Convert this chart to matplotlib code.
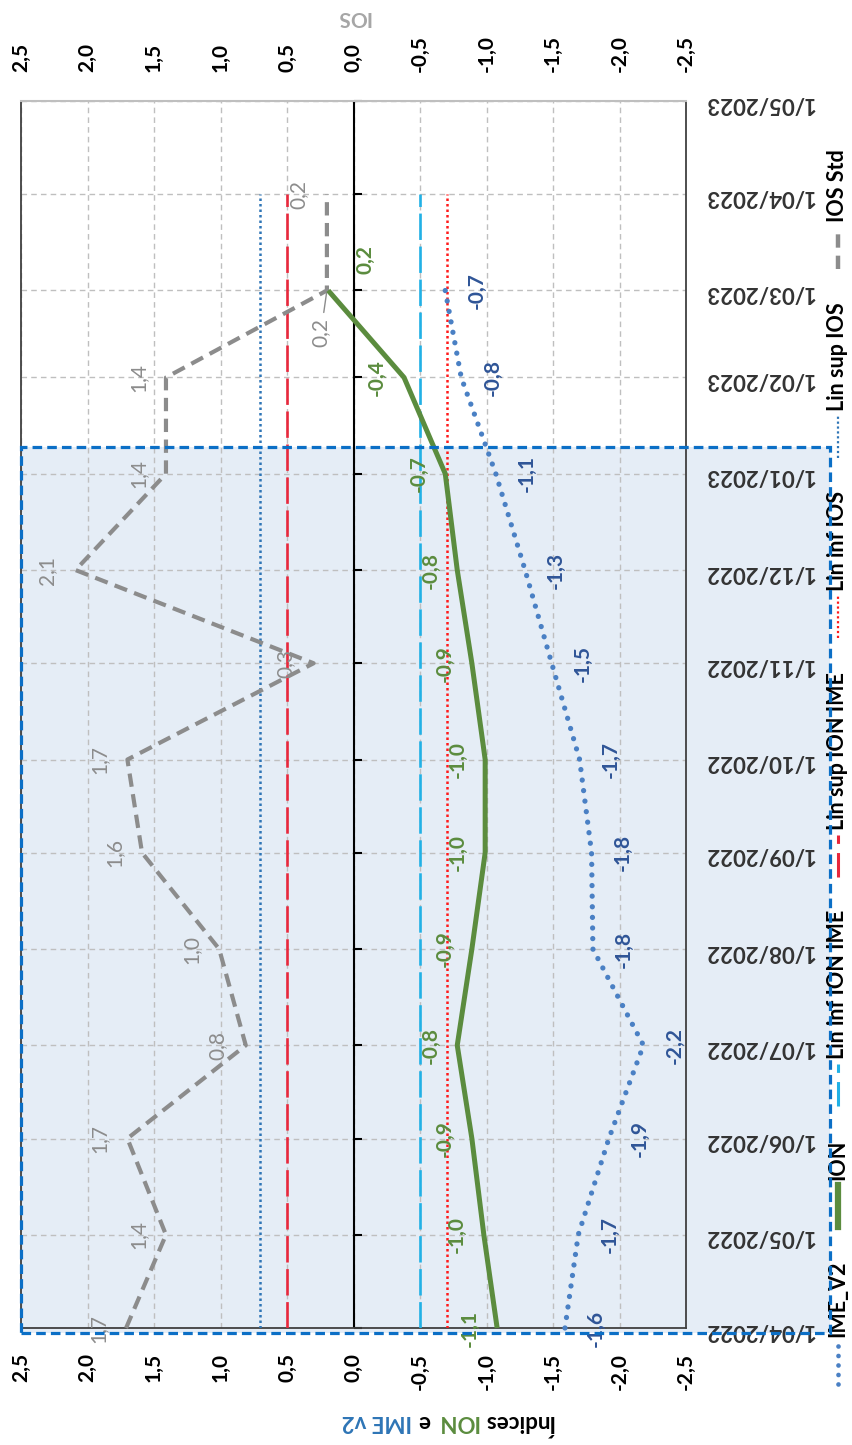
import pandas as pd
import matplotlib.pyplot as plt
import matplotlib.dates as mdates
from matplotlib.ticker import FuncFormatter
from matplotlib.lines import Line2D
from matplotlib.patches import Rectangle

plt.rcParams['font.family'] = ['Lato', 'DejaVu Sans']

# ---- data ----
dates = pd.date_range('2022-04-01', '2023-04-01', freq='MS')   # 13 months
ios_std = [1.71, 1.41, 1.70, 0.81, 1.01, 1.59, 1.70, 0.30, 2.09, 1.41, 1.41, 0.20, 0.20]
ion = [-1.08, -0.98, -0.89, -0.78, -0.89, -0.99, -0.99, -0.89, -0.78, -0.69, -0.38, 0.19]
ime_v2 = [-1.59, -1.69, -1.92, -2.18, -1.80, -1.79, -1.70, -1.49, -1.29, -1.07, -0.81, -0.69]
lin_sup_ios = 0.7
lin_inf_ios = -0.7
lin_sup_ion_ime = 0.5
lin_inf_ion_ime = -0.5
value_ticks = [2.5, 2.0, 1.5, 1.0, 0.5, 0.0, -0.5, -1.0, -1.5, -2.0, -2.5]

# ---- colours ----
GRAY = '#8c8c8c'
GREEN = '#5b8c3e'
IME_BLUE = '#4a80c4'
IME_LABEL = '#2f5597'
RED = '#e8283c'
RED_DOT = '#ff1a1a'
LIGHT_BLUE = '#21b1e6'
BLUE_DOT = '#2e75b6'
GRID = '#bfbfbf'

W, H = 852, 1445


def fx(x):
    return x / W


def fy(y):
    return 1 - y / H


def fmt(v):
    v = round(v, 1)
    if abs(v) < 1e-9:
        v = 0.0
    return f"{v:.1f}".replace('.', ',')


fig = plt.figure(figsize=(W / 100, H / 100), dpi=100)
ax = fig.add_axes([fx(21), fy(1328), fx(686) - fx(21), fy(101) - fy(1328)])
ax.patch.set_alpha(0)

# shaded band behind plot + dashed border on top
fig.add_artist(Rectangle((fx(21), fy(1333)), fx(830) - fx(21), fy(447) - fy(1333),
                         transform=fig.transFigure, facecolor='#e5edf6',
                         edgecolor='none', zorder=-5))
fig.add_artist(Rectangle((fx(21), fy(1333)), fx(830) - fx(21), fy(447) - fy(1333),
                         transform=fig.transFigure, facecolor='none',
                         edgecolor='#0b6fc6', lw=2.3, ls=(0, (3, 1.6)), zorder=20))

ax.set_xlim(2.5, -2.5)
ax.set_ylim(mdates.date2num(pd.Timestamp('2022-04-01')),
            mdates.date2num(pd.Timestamp('2023-05-01')))

# grid
ax.set_axisbelow(True)
ax.set_xticks(value_ticks)
ax.yaxis.set_major_locator(mdates.MonthLocator())
ax.grid(True, color=GRID, lw=1, ls=(0, (4, 3)))

# zero line with month ticks
ax.axvline(0, color='black', lw=1.5, zorder=2)
month_ticks = pd.date_range('2022-04-01', '2023-05-01', freq='MS')
ax.plot([0] * len(month_ticks), month_ticks, ls='none', marker=1, ms=6,
        mew=1.5, color='black', zorder=2, clip_on=False)

# reference lines
ref_span = [dates[0], dates[-1]]
ax.plot([lin_sup_ios] * 2, ref_span, color=BLUE_DOT, lw=1.8, ls=(0, (1, 1.2)), zorder=3)
ax.plot([lin_sup_ion_ime] * 2, ref_span, color=RED, lw=1.9, ls=(0, (10, 2.5)), zorder=3)
ax.plot([lin_inf_ion_ime] * 2, ref_span, color=LIGHT_BLUE, lw=1.9, ls=(0, (10, 2.5)), zorder=3)
ax.plot([lin_inf_ios] * 2, ref_span, color=RED_DOT, lw=1.8, ls=(0, (1, 1.2)), zorder=3)

# series
ax.plot(ios_std, dates, color=GRAY, lw=3, ls=(0, (3.2, 1.8)), zorder=4, clip_on=False)
ax.plot(ion, dates[:12], color=GREEN, lw=3.6, zorder=5, clip_on=False,
        solid_capstyle='butt')
ax.plot(ime_v2, dates[:12], color=IME_BLUE, lw=3.8, ls=(0, (0.01, 2.0)),
        dash_capstyle='round', zorder=5, clip_on=False)

# data labels
label_kw = dict(textcoords='offset pixels', rotation=90, ha='center', va='center',
                fontsize=15, annotation_clip=False, zorder=6)
for i, (v, d) in enumerate(zip(ios_std, dates)):
    if i == 11:
        ax.annotate(fmt(v), (v, d), xytext=(-6, -42), color=GRAY,
                    arrowprops=dict(arrowstyle='-', color=GRAY, lw=1, shrinkA=2, shrinkB=2),
                    **label_kw)
    else:
        ax.annotate(fmt(v), (v, d), xytext=(-28, 0), color=GRAY, **label_kw)
for i, (v, d) in enumerate(zip(ion, dates[:12])):
    off = (37, 31) if i == 11 else (-27, 0)
    ax.annotate(fmt(v), (v, d), xytext=off, color=GREEN, fontweight='bold', **label_kw)
for v, d in zip(ime_v2, dates[:12]):
    ax.annotate(fmt(v), (v, d), xytext=(31, 0), color=IME_LABEL, fontweight='bold', **label_kw)

# axes styling
for side in ['left', 'right', 'bottom']:
    ax.spines[side].set_color('#404040')
    ax.spines[side].set_linewidth(1.3)
ax.spines['top'].set_color(GRID)
ax.spines['top'].set_linewidth(1.5)

val_fmt = FuncFormatter(lambda v, p: fmt(v))
ax.xaxis.set_major_formatter(val_fmt)
ax.tick_params(axis='x', length=0, pad=18, labelrotation=90, labelsize=15)
for t in ax.get_xticklabels():
    t.set_fontweight('bold')

sec = ax.secondary_xaxis('top')
sec.set_xticks(value_ticks)
sec.xaxis.set_major_formatter(val_fmt)
sec.tick_params(axis='x', length=0, pad=21, labelrotation=90, labelsize=15)
sec.spines['top'].set_visible(False)
for t in sec.get_xticklabels():
    t.set_fontweight('bold')

ax.yaxis.tick_right()
ax.yaxis.set_major_formatter(FuncFormatter(
    lambda v, p: (lambda d: f"{d.day}/{d.month:02d}/{d.year}")(mdates.num2date(v))))
ax.tick_params(axis='y', length=0, pad=13, labelrotation=180, labelsize=16,
               labelcolor='#333333')
for t in ax.get_yticklabels():
    t.set_fontweight('bold')

# axis titles
fig.text(fx(353), fy(17), 'IOS', rotation=180, ha='center', va='center',
         fontsize=15, color='#a6a6a6', fontweight='bold')

renderer = fig.canvas.get_renderer()
x_cur = 554
for piece, col in [('Índices', 'black'), ('ION', GREEN), ('e', 'black'), ('IME v2', BLUE_DOT)]:
    t = fig.text(fx(x_cur), fy(1415), piece, rotation=180, rotation_mode='anchor',
                 ha='left', va='baseline', fontsize=16, fontweight='bold', color=col)
    x_cur -= t.get_window_extent(renderer).width + 6

# legend (vertical, reading bottom to top)
legend_items = [
    ('IME_V2', dict(color=IME_BLUE, lw=3.4, ls=(0, (0.01, 2.0)), dash_capstyle='round')),
    ('ION', dict(color=GREEN, lw=4.5)),
    ('Lin inf ION IME', dict(color=LIGHT_BLUE, lw=2.2, ls=(0, (8, 3)))),
    ('Lin sup ION IME', dict(color=RED, lw=2.2, ls=(0, (8, 3)))),
    ('Lin inf IOS', dict(color=RED_DOT, lw=1.6, ls=(0, (1, 1.2)))),
    ('Lin sup IOS', dict(color=BLUE_DOT, lw=1.6, ls=(0, (1, 1.2)))),
    ('IOS Std', dict(color=GRAY, lw=3.2, ls=(0, (3, 1.8)))),
]
leg_x, leg_bottom, leg_top = 838, 1384, 149
mark_len, mark_gap = 42, 5
texts = []
for lab, _ in legend_items:
    t = fig.text(fx(leg_x), fy(0), lab, rotation=90, ha='center', va='bottom',
                 fontsize=15.5, fontweight='bold', color='black')
    texts.append(t)
lens = [t.get_window_extent(renderer).height for t in texts]
used = sum(lens) + len(legend_items) * (mark_len + mark_gap)
item_gap = (leg_bottom - leg_top - used) / (len(legend_items) - 1)
y = leg_bottom
for (lab, style), t, ln in zip(legend_items, texts, lens):
    fig.add_artist(Line2D([fx(leg_x), fx(leg_x)], [fy(y), fy(y - mark_len)],
                          transform=fig.transFigure, **style))
    y -= mark_len + mark_gap
    t.set_position((fx(leg_x), fy(y)))
    y -= ln + item_gap

fig.savefig('out.png', dpi=100)
